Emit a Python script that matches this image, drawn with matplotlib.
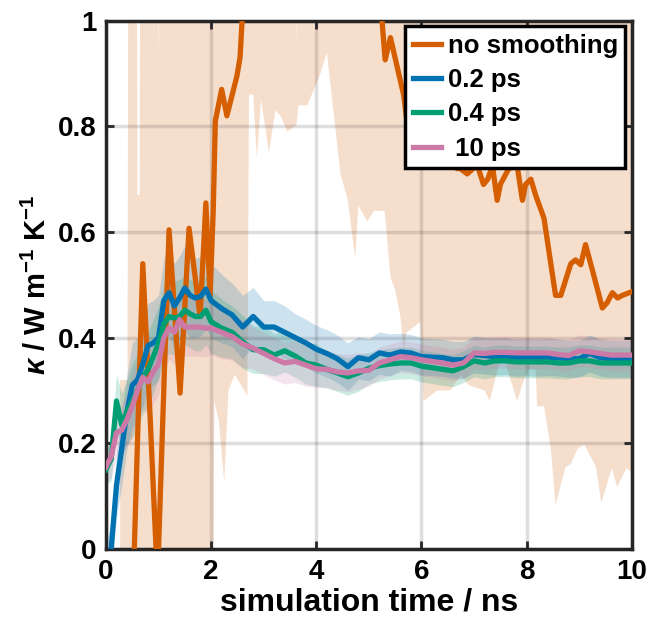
import numpy as np
import matplotlib
matplotlib.use("Agg")
import matplotlib.pyplot as plt

plt.rcParams["font.family"] = ["Liberation Sans", "DejaVu Sans"]
plt.rcParams["font.weight"] = "bold"
plt.rcParams["mathtext.fontset"] = "custom"
plt.rcParams["mathtext.it"] = "Liberation Sans:italic"
plt.rcParams["mathtext.bf"] = "Liberation Sans:bold"
plt.rcParams["mathtext.rm"] = "Liberation Sans:bold"

# === data ===
# no smoothing (raw running estimate), ns / W m-1 K-1
t_raw = [0.0, 0.2, 0.45, 0.7, 0.84, 0.98, 1.2, 1.41, 1.58, 1.79, 1.9, 1.98, 2.04, 2.08,
         2.2, 2.3, 2.49, 2.55, 2.7, 3.0, 3.5, 4.0, 4.5, 5.0, 5.25, 5.31, 5.41, 5.66, 5.75,
         6.0, 6.3, 6.55, 6.68, 6.74, 6.87, 7.06, 7.18, 7.26, 7.35, 7.44, 7.5, 7.66, 7.82,
         7.92, 7.98, 8.08, 8.17, 8.33, 8.55, 8.65, 8.84, 8.93, 9.03, 9.12, 9.25, 9.44, 9.53,
         9.63, 9.73, 9.82, 10.0]
k_raw = [-1.0, -0.8, -0.3, 0.54, 0.25, -0.06, 0.604, 0.295, 0.607, 0.44, 0.655, 0.48, 0.64,
         0.81, 0.87, 0.82, 0.895, 0.93, 1.2, 1.5, 1.6, 1.5, 1.4, 1.2, 1.0, 0.926, 0.968, 0.86,
         0.79, 0.77, 0.75, 0.73, 0.72, 0.72, 0.71, 0.727, 0.69, 0.70, 0.725, 0.66, 0.69, 0.72,
         0.725, 0.66, 0.69, 0.70, 0.67, 0.626, 0.48, 0.48, 0.54, 0.547, 0.538, 0.576, 0.528,
         0.456, 0.466, 0.485, 0.475, 0.48, 0.487]

# spread of the raw estimate
t_raw_band = [0.27, 0.41, 0.43, 0.58, 0.60, 0.64, 0.66, 0.97, 1.00, 1.03, 2.03, 2.06, 2.15,
              2.25, 2.33, 2.45, 2.69, 2.72, 2.8, 2.87, 2.95, 3.1, 3.22, 3.32, 3.45, 3.58,
              3.62, 3.66, 3.83, 4.08, 4.2, 4.46, 4.6, 4.74, 4.8, 4.97, 5.1, 5.3, 5.41, 5.5,
              5.6, 5.66, 5.72, 5.85, 5.98, 6.04, 6.3, 6.55, 6.75, 6.9, 7.2, 7.3, 7.5, 7.6,
              7.82, 7.95, 8.05, 8.17, 8.2, 8.33, 8.46, 8.55, 8.74, 8.84, 8.97, 9.1, 9.32,
              9.42, 9.62, 9.72, 9.9, 10.0]
raw_hi = [0.32, 0.32, 1.5, 1.5, 0.67, 0.67, 1.5, 1.5, 0.92, 1.5, 1.5, 1.5, 1.5,
          1.5, 1.5, 1.5, 1.5, 1.5, 1.5, 1.5, 1.5, 1.5, 1.5, 1.5, 1.5, 1.5,
          0.95, 1.5, 1.5, 1.5, 1.5, 1.5, 1.5, 1.5, 1.5, 1.5, 1.5, 1.5, 1.5, 1.5,
          1.5, 1.5, 1.5, 1.5, 1.5, 1.5, 1.5, 1.5, 1.5, 1.5, 1.5, 1.5, 1.5, 1.5,
          1.5, 1.5, 1.5, 1.5, 1.5, 1.5, 1.5, 1.5, 1.5, 1.5, 1.5, 1.5, 1.5,
          1.5, 1.5, 1.5, 1.5, 1.5]
raw_lo = [-0.5, -0.5, -0.5, -0.5, -0.5, -0.5, -0.5, -0.5, -0.5, -0.5, -0.5, 0.28, 0.24,
          0.125, 0.30, 0.33, 0.29, 0.86, 0.86, 0.74, 0.85, 0.75, 0.83, 0.82, 0.79, 0.80,
          0.80, 0.84, 0.84, 0.90, 0.94, 0.71, 0.66, 0.55, 0.65, 0.62, 0.64, 0.64, 0.515, 0.49,
          0.44, 0.377, 0.41, 0.42, 0.43, 0.28, 0.30, 0.30, 0.33, 0.31, 0.30, 0.28, 0.36, 0.35,
          0.28, 0.32, 0.34, 0.34, 0.27, 0.27, 0.19, 0.083, 0.155, 0.16, 0.19, 0.197, 0.155,
          0.087, 0.153, 0.117, 0.153, 0.144]

# smoothed estimates
t_s = [0.0, 0.1, 0.2, 0.3, 0.4, 0.5, 0.6, 0.7, 0.8, 0.9, 1.0, 1.1, 1.2, 1.3, 1.4, 1.5, 1.6,
       1.7, 1.8, 1.9, 2.0, 2.2, 2.4, 2.6, 2.8, 3.0, 3.2, 3.4, 3.6, 3.8, 4.0, 4.2, 4.4, 4.6,
       4.8, 5.0, 5.2, 5.4, 5.6, 5.8, 6.0, 6.2, 6.4, 6.6, 6.8, 7.0, 7.2, 7.4, 7.6, 7.8, 8.0,
       8.2, 8.4, 8.6, 8.8, 9.0, 9.2, 9.4, 9.6, 9.8, 10.0]
k_02 = [-0.03, 0.0, 0.12, 0.19, 0.26, 0.31, 0.32, 0.35, 0.385, 0.39, 0.40, 0.47, 0.485, 0.46,
        0.475, 0.494, 0.48, 0.475, 0.478, 0.492, 0.47, 0.455, 0.443, 0.42, 0.44, 0.42, 0.42,
        0.41, 0.40, 0.39, 0.378, 0.37, 0.36, 0.345, 0.362, 0.358, 0.371, 0.367, 0.373, 0.371,
        0.364, 0.363, 0.362, 0.358, 0.358, 0.368, 0.366, 0.364, 0.365, 0.362, 0.363, 0.362,
        0.363, 0.362, 0.36, 0.36, 0.37, 0.362, 0.36, 0.36, 0.36]
k_04 = [0.15, 0.17, 0.28, 0.235, 0.26, 0.28, 0.30, 0.325, 0.34, 0.364, 0.39, 0.425, 0.44,
        0.437, 0.44, 0.452, 0.445, 0.44, 0.44, 0.452, 0.43, 0.418, 0.41, 0.392, 0.377, 0.377,
        0.367, 0.375, 0.365, 0.352, 0.348, 0.34, 0.333, 0.326, 0.333, 0.342, 0.347, 0.35,
        0.352, 0.352, 0.346, 0.343, 0.34, 0.337, 0.345, 0.356, 0.352, 0.356, 0.356, 0.354,
        0.354, 0.354, 0.354, 0.352, 0.352, 0.356, 0.356, 0.352, 0.352, 0.352, 0.352]
k_10 = [0.155, 0.175, 0.22, 0.225, 0.245, 0.27, 0.30, 0.325, 0.316, 0.335, 0.35, 0.40, 0.418,
        0.41, 0.434, 0.42, 0.42, 0.42, 0.42, 0.418, 0.418, 0.41, 0.402, 0.388, 0.38, 0.37,
        0.36, 0.352, 0.355, 0.348, 0.341, 0.34, 0.335, 0.333, 0.337, 0.338, 0.352, 0.358,
        0.364, 0.362, 0.358, 0.355, 0.352, 0.348, 0.352, 0.371, 0.370, 0.372, 0.372, 0.371,
        0.371, 0.371, 0.371, 0.368, 0.366, 0.375, 0.373, 0.37, 0.367, 0.367, 0.367]
# half widths of the shaded bands
sd_02 = [0.04, 0.05, 0.06, 0.07, 0.07, 0.08, 0.08, 0.08, 0.08, 0.08, 0.08, 0.08, 0.08, 0.08,
         0.08, 0.08, 0.08, 0.075, 0.075, 0.075, 0.07, 0.065, 0.06, 0.06, 0.055, 0.05, 0.05,
         0.05, 0.045, 0.045, 0.045, 0.045, 0.045, 0.045, 0.04, 0.04, 0.04, 0.04, 0.035, 0.035,
         0.035, 0.035, 0.035, 0.035, 0.035, 0.035, 0.035, 0.035, 0.035, 0.035, 0.035, 0.035,
         0.035, 0.035, 0.035, 0.035, 0.035, 0.035, 0.035, 0.035, 0.035]
sd_04 = [0.03, 0.04, 0.05, 0.06, 0.06, 0.07, 0.07, 0.07, 0.07, 0.07, 0.07, 0.07, 0.07, 0.07,
         0.07, 0.065, 0.065, 0.065, 0.065, 0.065, 0.06, 0.055, 0.05, 0.05, 0.045, 0.045, 0.04,
         0.04, 0.04, 0.04, 0.04, 0.035, 0.035, 0.035, 0.035, 0.03, 0.03, 0.03, 0.03, 0.03,
         0.03, 0.03, 0.03, 0.03, 0.03, 0.03, 0.03, 0.03, 0.03, 0.03, 0.03, 0.03, 0.03, 0.03,
         0.03, 0.03, 0.03, 0.03, 0.03, 0.03, 0.03]
sd_10 = [0.03, 0.04, 0.045, 0.05, 0.05, 0.06, 0.06, 0.06, 0.06, 0.06, 0.06, 0.06, 0.06, 0.06,
         0.06, 0.055, 0.055, 0.055, 0.055, 0.055, 0.05, 0.05, 0.045, 0.045, 0.04, 0.04, 0.04,
         0.04, 0.04, 0.04, 0.035, 0.035, 0.035, 0.035, 0.035, 0.03, 0.03, 0.03, 0.03, 0.03,
         0.03, 0.03, 0.03, 0.03, 0.03, 0.03, 0.03, 0.03, 0.03, 0.03, 0.03, 0.03, 0.03, 0.03,
         0.03, 0.03, 0.03, 0.03, 0.03, 0.03, 0.03]

labels = ["no smoothing", "0.2 ps", "0.4 ps", " 10 ps"]
colors = ["#D55E00", "#0072B2", "#009E73", "#CC79A7"]

# === plot ===
fig = plt.figure(figsize=(6.5, 6.28), dpi=100)
ax = fig.add_axes([0.163, 0.126, 0.809, 0.841])

ax.fill_between(t_raw_band, raw_lo, raw_hi, color=colors[0], alpha=0.2, lw=0, zorder=1)
smooth = [(k_02, sd_02), (k_04, sd_04), (k_10, sd_10)]
for (k, sd), c in zip(smooth, colors[1:]):
    k = np.array(k)
    sd = np.array(sd)
    ax.fill_between(t_s, k - sd, k + sd, color=c, alpha=0.2, lw=0, zorder=1)

ax.plot(t_raw, k_raw, color=colors[0], lw=3.8, label=labels[0], zorder=3)
for (k, sd), c, lab in zip(smooth, colors[1:], labels[1:]):
    ax.plot(t_s, k, color=c, lw=3.8, label=lab, zorder=3)

ax.set_xlim(0, 10)
ax.set_ylim(0, 1)
ax.set_xticks([0, 2, 4, 6, 8, 10])
ax.set_yticks([0, 0.2, 0.4, 0.6, 0.8, 1])
ax.set_yticklabels(["0", "0.2", "0.4", "0.6", "0.8", "1"])

ax.set_axisbelow(False)
ax.grid(True, color="#262626", alpha=0.15, lw=2.5)
ax.tick_params(direction="in", length=6, width=2, colors="#262626", labelcolor="black",
               labelsize=20, top=True, right=True, pad=7)
for s in ax.spines.values():
    s.set_linewidth(2.5)
    s.set_color("#262626")

ax.set_xlabel("simulation time / ns", fontsize=23, fontweight="bold", labelpad=2)
ax.set_ylabel(r"$\mathit{\kappa}$ / W m$^{\mathbf{-1}}$ K$^{\mathbf{-1}}$", fontsize=21,
              fontweight="bold", labelpad=4)

leg = ax.legend(loc="upper right", bbox_to_anchor=(0.988, 0.99), fontsize=18.5,
                frameon=True, fancybox=False, framealpha=1, edgecolor="black",
                borderaxespad=0, handlelength=1.1, handletextpad=0.25, labelspacing=0.4,
                borderpad=0.3)
leg.get_frame().set_linewidth(2.5)
for line in leg.get_lines():
    line.set_linewidth(3.8)

fig.savefig("out.png", dpi=100)
